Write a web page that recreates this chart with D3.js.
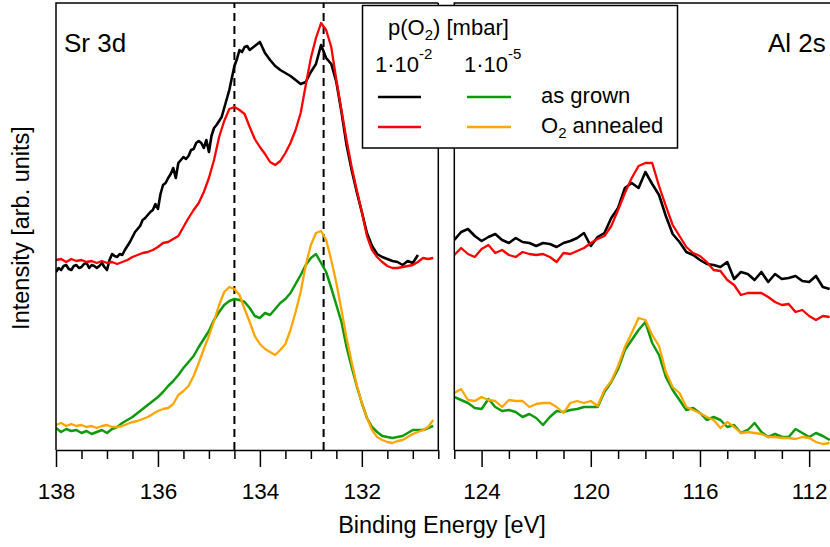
<!DOCTYPE html>
<html><head><meta charset="utf-8">
<script src="https://cdn.jsdelivr.net/npm/d3@7/dist/d3.min.js"></script>
<style>
body{margin:0;background:#fff;}
svg{display:block;}
text{font-family:"Liberation Sans",Arial,Helvetica,sans-serif;fill:#000;}
</style>
</head><body>
<svg id="chart" width="830" height="547"></svg>
<script>
// ---------------- data (binding energy in eV, intensity in arb. units) ----------------
const srEnergy = [138.0,137.9,137.8,137.7,137.6,137.5,137.4,137.3,137.2,137.1,137.0,136.9,136.8,136.7,136.6,136.5,136.4,136.3,136.2,136.1,136.0,135.9,135.8,135.7,135.6,135.5,135.4,135.3,135.2,135.1,135.0,134.9,134.8,134.7,134.6,134.5,134.4,134.3,134.2,134.1,134.0,133.9,133.8,133.7,133.6,133.5,133.4,133.3,133.2,133.1,133.0,132.9,132.8,132.7,132.6,132.5,132.4,132.3,132.2,132.1,132.0,131.9,131.8,131.7,131.6,131.5,131.4,131.3,131.2,131.1,131.0,130.9,130.8,130.7,130.6];
// as-grown 1e-2 mbar Sr 3d was read on a finer grid where it is noisy
const srEnergyAsGrown2 = [138,137.95,137.9,137.85,137.8,137.75,137.7,137.65,137.6,137.55,137.5,137.45,137.4,137.35,137.3,137.25,137.2,137.15,137.1,137.05,137,136.95,136.9,136.85,136.8,136.75,136.7,136.65,136.6,136.55,136.5,136.45,136.4,136.35,136.3,136.25,136.2,136.15,136.1,136.05,136,135.95,135.9,135.85,135.8,135.75,135.7,135.65,135.6,135.55,135.5,135.45,135.4,135.35,135.3,135.25,135.2,135.15,135.1,135.05,135,134.95,134.9,134.85,134.8,134.75,134.7,134.65,134.6,134.55,134.5,134.45,134.4,134.35,134.3,134.25,134.2,134.1,134.0,133.9,133.8,133.7,133.6,133.5,133.4,133.3,133.2,133.1,133.0,132.9,132.8,132.7,132.6,132.5,132.4,132.3,132.2,132.1,132.0,131.9,131.8,131.7,131.6,131.5,131.4,131.3,131.2,131.1,131.0,130.9];
const srAsGrown2 = [178,182,180,184,185,181,180,184,185,182,183,186,187,182,185,184,182,184,187,183,
  180,190,196,194,193,196,195,200,204,208,213,218,221,224,230,232,235,238,240,246,
  241,256,265,267,272,276,282,272,287,290,293,291,294,300,301,307,309,307,302,310,
  298,314,322,325,329,333,342,351,360,372,384,391,400,398,403,404,400,
  404,408,397,390,384,380,377,374,370,366,368,378,386,405,392,386,368,338,305,280,258,238,217,204,196,193,191,189,188,185,189,187,195];
const srAnnealed2 = [190,191,188,191,189,190,188,189,187,189,187,188,186,188,190,193,195,197,198,200,203,207,208,211,214,223,232,240,247,258,272,290,313,329,341,343,340,336,323,311,303,296,288,285,289,297,307,320,337,365,392,412,427,420,403,370,340,310,283,260,238,214,200,193,188,184,182,182,183,184,185,188,192,191,192];
const srAsGrown5 = [22,18,21,19,20,17,19,16,18,20,17,21,23,27,30,33,37,41,45,49,53,58,64,69,75,82,88,94,103,111,119,130,138,145,149,151,150,148,142,134,132,137,135,141,147,151,157,166,175,185,192,196,187,178,162,145,128,103,83,64,47,32,23,18,14,13,12,13,14,17,20,20,20,22,24];
const srAnnealed5 = [25,27,24,26,24,25,23,24,22,24,25,23,23,24,26,28,29,31,33,36,39,41,42,46,55,59,64,74,87,101,114,129,145,158,163,161,155,141,128,114,106,101,98,95,100,106,120,138,158,185,205,217,219,210,190,167,140,112,88,65,47,32,20,13,10,8,7,9,10,13,16,18,20,23,30];

const alEnergy = [125,124.75,124.5,124.25,124,123.75,123.5,123.25,123,122.75,122.5,122.25,122,121.75,121.5,121.25,121,120.75,120.5,120.25,120,119.75,119.5,119.25,119,118.75,118.5,118.25,118,117.75,117.5,117.25,117,116.75,116.5,116.25,116,115.75,115.5,115.25,115,114.75,114.5,114.25,114,113.75,113.5,113.25,113,112.75,112.5,112.25,112,111.75,111.5,111.25];
const alAsGrown2 = [210,218,221,214,209,213,216,210,207,212,208,207,204,207,206,203,207,209,212,217,204,213,217,232,242,262,267,262,278,266,255,234,216,208,198,195,190,186,185,183,188,171,178,176,170,178,168,176,171,172,174,169,168,174,163,161];
const alAnnealed2 = [195,202,196,193,201,205,197,200,195,193,198,196,195,196,193,188,197,196,199,202,207,211,214,224,240,257,272,284,287,287,264,244,225,214,203,197,194,188,180,179,170,165,155,157,157,157,153,148,145,146,138,140,134,130,134,133];
const alAsGrown5 = [53,50,47,42,41,51,43,39,40,38,33,36,32,25,33,39,38,40,41,43,43,43,58,68,81,100,110,120,128,107,95,73,60,50,40,42,37,30,33,30,23,25,17,20,27,18,13,16,13,13,21,17,13,17,14,10];
const alAnnealed5 = [57,61,50,49,53,50,49,43,50,49,49,43,46,47,47,43,37,47,49,47,49,44,60,69,84,103,117,132,130,115,104,78,63,57,43,40,37,33,30,22,28,23,17,18,17,16,13,13,12,12,11,13,12,8,6,7];

const srMajorTicks = [138,136,134,132];
const srMinorTicks = [137.5,137,136.5,135.5,135,134.5,133.5,133,132.5,131.5,131,130.5];
const alMajorTicks = [124,120,116,112];
const alMinorTicks = [125,123,122,121,119,118,117,115,114,113];
const srRefLines = [134.5,132.75];

const panelLabels = ["Sr 3d","Al 2s"];
const seriesColors = ["#000000","#ff0000","#0d9a0d","#ffa500"];
const seriesWidths = [2.6,2.3,2.5,2.3];
const legendCols = ["-2","-5"];   // exponent of 1·10^x mbar
const legendRows = ["as grown","annealed"];

// ---------------- scales ----------------
const svg = d3.select("#chart");
const y = d3.scaleLinear().domain([0,447]).range([450,3]);
const xSr = d3.scaleLinear().domain([138,130.5]).range([56,438.3]);
const xAl = d3.scaleLinear().domain([125,111.2]).range([454.3,831]);

const defs = svg.append("defs");
[["clipSr",xSr],["clipAl",xAl]].forEach(([id,sc])=>{
  defs.append("clipPath").attr("id",id).append("rect")
    .attr("x",sc.range()[0]).attr("y",y.range()[1])
    .attr("width",sc.range()[1]-sc.range()[0]).attr("height",y.range()[0]-y.range()[1]);
});

// dashed reference lines (Sr 3d)
svg.append("g").selectAll("line").data(srRefLines).join("line")
  .attr("x1",d=>xSr(d)).attr("x2",d=>xSr(d))
  .attr("y1",y(0)).attr("y2",y(447))
  .attr("stroke","#000").attr("stroke-width",2).attr("stroke-dasharray","8,5");

function drawSeries(sc, energies, series, clip){
  const g = svg.append("g").attr("clip-path",`url(#${clip})`);
  series.forEach((vals,i)=>{
    const en = energies[i];
    const ln = d3.line().x((d,j)=>sc(en[j])).y(d=>y(d));
    g.append("path").datum(vals).attr("d",ln)
      .attr("fill","none").attr("stroke",seriesColors[i])
      .attr("stroke-width",seriesWidths[i]).attr("stroke-linejoin","round");
  });
}
drawSeries(xSr, [srEnergyAsGrown2, srEnergy, srEnergy, srEnergy], [srAsGrown2, srAnnealed2, srAsGrown5, srAnnealed5], "clipSr");
drawSeries(xAl, [alEnergy, alEnergy, alEnergy, alEnergy], [alAsGrown2, alAnnealed2, alAsGrown5, alAnnealed5], "clipAl");

// frames
function frame(sc){
  const [x0,x1] = sc.range();
  svg.append("path")
    .attr("d",`M${x0},${y(0)}V${y(447)}H${x1}M${x1},${y(447)}V${y(0)}`)
    .attr("fill","none").attr("stroke","#000").attr("stroke-width",1.5);
}
frame(xSr); frame(xAl);

// axes
function axes(sc, major, minor){
  const gMin = svg.append("g").attr("transform",`translate(0,${y(0)})`)
    .call(d3.axisBottom(sc).tickValues(minor).tickSize(9).tickSizeOuter(0).tickFormat(""));
  gMin.select(".domain").remove();
  const gMaj = svg.append("g").attr("transform",`translate(0,${y(0)})`)
    .call(d3.axisBottom(sc).tickValues(major).tickSize(17).tickSizeOuter(0).tickFormat(d3.format("d")));
  [gMin,gMaj].forEach(g=>g.selectAll("line").attr("stroke","#000").attr("stroke-width",1.5));
  gMaj.select(".domain").attr("stroke","#000").attr("stroke-width",1.5);
  gMaj.selectAll("text").attr("y",49).attr("dy",0)
    .style("font-size","22.5px").style("font-family","Liberation Sans, Arial, sans-serif").attr("fill","#000");
}
axes(xSr, srMajorTicks, srMinorTicks);
axes(xAl, alMajorTicks, alMinorTicks);

// panel labels
svg.append("text").attr("x",64).attr("y",52).style("font-size","26px").text(panelLabels[0]);
svg.append("text").attr("x",768).attr("y",52).style("font-size","26px").text(panelLabels[1]);

// axis titles
svg.append("text").attr("x",442).attr("y",533).attr("text-anchor","middle")
  .style("font-size","23.5px").text("Binding Energy [eV]");
svg.append("text").attr("transform","translate(29,228) rotate(-90)").attr("text-anchor","middle")
  .style("font-size","23.5px").text("Intensity [arb. units]");

// legend
const lg = svg.append("g");
lg.append("rect").attr("x",362.5).attr("y",5.5).attr("width",315).attr("height",142.5)
  .attr("fill","#fff").attr("stroke","#000").attr("stroke-width",1.5);
const hdr = lg.append("text").attr("x",388).attr("y",35).style("font-size","22px");
hdr.append("tspan").text("p(O");
hdr.append("tspan").attr("dy",5).style("font-size","15px").text("2");
hdr.append("tspan").attr("dy",-5).text(") [mbar]");
const colX = [375,464];
legendCols.forEach((e,i)=>{
  const t = lg.append("text").attr("x",colX[i]).attr("y",72).style("font-size","22px");
  t.append("tspan").text("1\u00b710");
  t.append("tspan").attr("dy",-13).style("font-size","15px").text(e);
});
const lineX = [[378,421],[467,511]];
const rowY = [97,127];
legendRows.forEach((r,ri)=>{
  lineX.forEach((lx,ci)=>{
    lg.append("line").attr("x1",lx[0]).attr("x2",lx[1]).attr("y1",rowY[ri]).attr("y2",rowY[ri])
      .attr("stroke",seriesColors[ri + 2*ci]).attr("stroke-width",2.5);
  });
  const t = lg.append("text").attr("x",541).attr("y",rowY[ri]+6).style("font-size","22px");
  if(ri===1){
    t.append("tspan").text("O");
    t.append("tspan").attr("dy",5).style("font-size","15px").text("2");
    t.append("tspan").attr("dy",-5).text(" " + r);
  } else {
    t.text(r);
  }
});
</script>
</body></html>
